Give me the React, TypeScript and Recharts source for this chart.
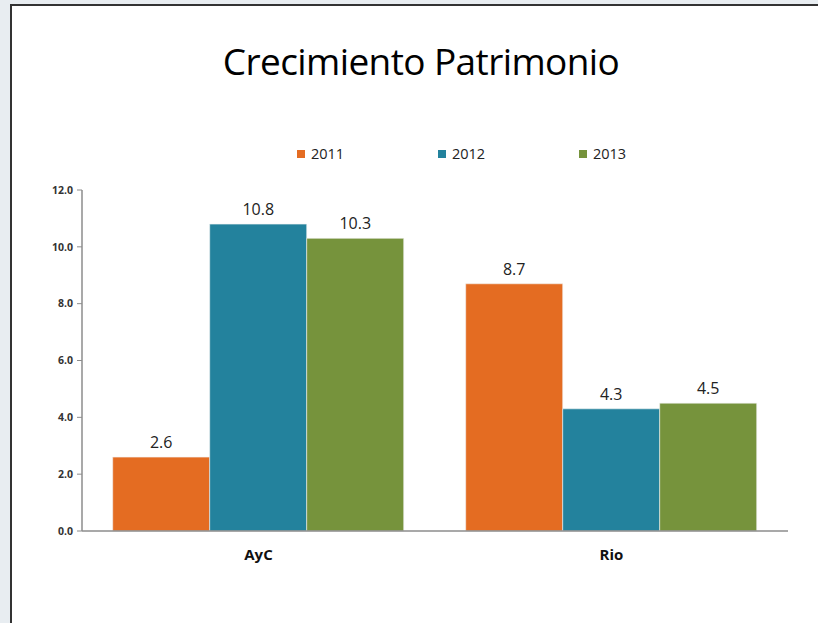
import React from 'react';
import { BarChart, Bar, XAxis, YAxis, LabelList } from 'recharts';

const categories = ['AyC', 'Rio'];
const values2011 = [2.6, 8.7];
const values2012 = [10.8, 4.3];
const values2013 = [10.3, 4.5];
const yTicks = [0, 2, 4, 6, 8, 10, 12];

const series = [
  { key: 'y2011', name: '2011', color: '#E46C22', values: values2011 },
  { key: 'y2012', name: '2012', color: '#23829D', values: values2012 },
  { key: 'y2013', name: '2013', color: '#76933C', values: values2013 },
];

const data = categories.map((name, i) => {
  const row: Record<string, string | number> = { name };
  series.forEach((s) => {
    row[s.key] = s.values[i];
  });
  return row;
});

const legendX = [297, 438, 579];

const App: React.FC = () => {
  return (
    <div style={{ position: 'fixed', left: 0, top: 0, width: 818, height: 623, background: '#e8edf1', overflow: 'hidden' }}>
      <div
        style={{
          position: 'absolute',
          left: 10,
          top: 4,
          width: 830,
          height: 640,
          background: '#ffffff',
          borderLeft: '2px solid #333',
          borderTop: '2px solid #333',
        }}
      />
      <div
        style={{
          position: 'absolute',
          left: 0,
          width: 842,
          top: 35,
          textAlign: 'center',
          fontFamily: 'Open Sans',
          fontSize: 37,
          color: '#000',
          letterSpacing: -0.6,
        }}
      >
        Crecimiento Patrimonio
      </div>
      {series.map((s, i) => (
        <div
          key={s.key}
          style={{ position: 'absolute', left: legendX[i], top: 144, display: 'flex', alignItems: 'center', fontFamily: 'Open Sans', fontSize: 14.5, color: '#222' }}
        >
          <span style={{ width: 8, height: 8, background: s.color, display: 'inline-block', marginRight: 6 }} />
          {s.name}
        </div>
      ))}
      <div style={{ position: 'absolute', left: 0, top: 0 }}>
        <BarChart
          width={818}
          height={623}
          data={data}
          margin={{ top: 190, right: 30, bottom: 52, left: 42 }}
          barCategoryGap="8.7%"
          barGap={0}
        >
          <XAxis
            dataKey="name"
            axisLine={{ stroke: '#8c8c8c', strokeWidth: 1.5 }}
            tickLine={false}
            height={40}
            tick={{ fill: '#111', fontSize: 15, fontWeight: 700, fontFamily: 'Open Sans' }}
            tickMargin={12}
          />
          <YAxis
            width={40}
            domain={[0, 12]}
            ticks={yTicks}
            interval={0}
            tickFormatter={(v: number) => v.toFixed(1)}
            axisLine={{ stroke: '#8c8c8c', strokeWidth: 1.5 }}
            tickLine={{ stroke: '#8c8c8c' }}
            tickSize={5}
            tickMargin={4}
            tick={{ fill: '#333', fontSize: 10.5, fontWeight: 700, fontFamily: 'Open Sans' }}
          />
          {series.map((s) => (
            <Bar key={s.key} dataKey={s.key} name={s.name} fill={s.color} stroke="#f2f2f2" strokeWidth={0.6} isAnimationActive={false}>
              <LabelList
                dataKey={s.key}
                position="top"
                offset={9}
                formatter={(v: any) => Number(v).toFixed(1)}
                style={{ fill: '#222', fontSize: 16, fontFamily: 'Open Sans' }}
              />
            </Bar>
          ))}
        </BarChart>
      </div>
    </div>
  );
};

export default App;
